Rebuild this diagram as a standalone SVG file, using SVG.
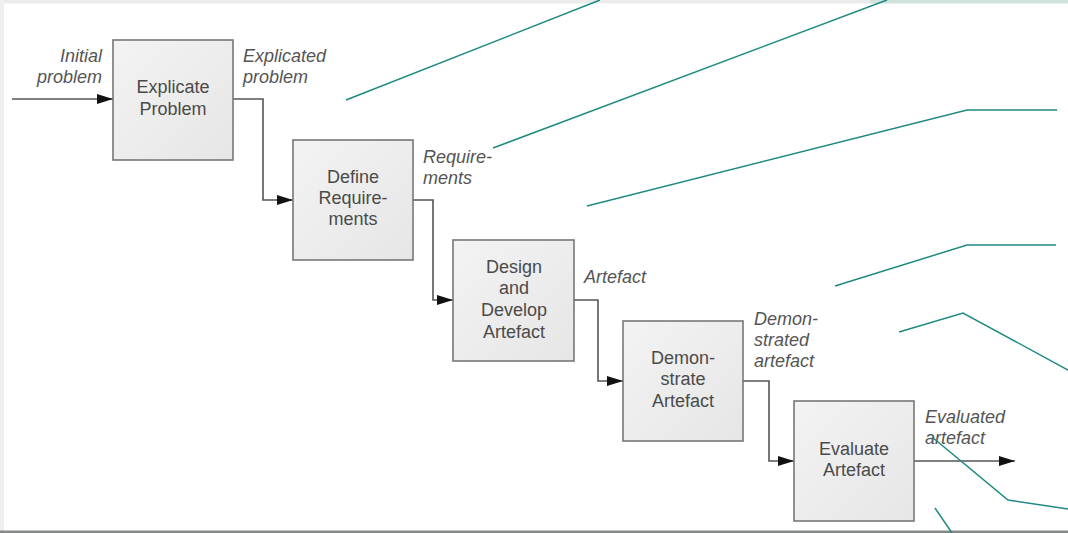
<svg xmlns="http://www.w3.org/2000/svg" width="1068" height="533" viewBox="0 0 1068 533">
<defs>
<linearGradient id="bg" x1="0" y1="0" x2="1" y2="1">
<stop offset="0" stop-color="#f3f3f3"/>
<stop offset="1" stop-color="#e6e6e6"/>
</linearGradient>
<marker id="ah" markerWidth="16" markerHeight="10" refX="16" refY="5" orient="auto" markerUnits="userSpaceOnUse">
<path d="M0,0 L16,5 L0,10 Z" fill="#111"/>
</marker>
<style>
.box{fill:url(#bg);stroke:#777;stroke-width:1.6}
.bt{font-family:"Liberation Sans",Arial,sans-serif;font-size:18px;fill:#4a4a4a;text-anchor:middle}
.lb{font-family:"Liberation Sans",Arial,sans-serif;font-size:18px;font-style:italic;fill:#555}
.con{fill:none;stroke:#555;stroke-width:1.6}
.teal{fill:none;stroke:#1e8a80;stroke-width:1.5}
</style>
</defs>
<rect x="0" y="0" width="1068" height="533" fill="#fff"/>
<rect x="0" y="0" width="870" height="3.5" fill="#ebebeb"/>
<rect x="870" y="0" width="198" height="3.5" fill="#cfe3db"/>
<rect x="0" y="0" width="4" height="533" fill="#efefef"/>
<rect x="0" y="530.5" width="1068" height="2.5" fill="#848a88"/>

<g id="connectors">
<path class="con" d="M12,99 H113" marker-end="url(#ah)"/>
<path class="con" d="M233,99 H263 V200 H293" marker-end="url(#ah)"/>
<path class="con" d="M413,200 H433 V300 H453" marker-end="url(#ah)"/>
<path class="con" d="M574,300 H598 V381 H623" marker-end="url(#ah)"/>
<path class="con" d="M743,381 H769 V461 H794" marker-end="url(#ah)"/>
<path class="con" d="M914,461 H1015" marker-end="url(#ah)"/>
</g>

<g id="labels">
<text class="lb" x="102" y="62" text-anchor="end">Initial</text>
<text class="lb" x="102" y="83" text-anchor="end">problem</text>
<text class="lb" x="243" y="62">Explicated</text>
<text class="lb" x="243" y="83">problem</text>
<text class="lb" x="423" y="163">Require-</text>
<text class="lb" x="423" y="184">ments</text>
<text class="lb" x="584" y="283">Artefact</text>
<text class="lb" x="754" y="325">Demon-</text>
<text class="lb" x="754" y="346">strated</text>
<text class="lb" x="754" y="367">artefact</text>
<text class="lb" x="925" y="423">Evaluated</text>
<text class="lb" x="925" y="444">artefact</text>
</g>

<g id="n1"><rect class="box" x="113" y="40" width="120" height="120"/>
<text class="bt" x="173" y="93">Explicate</text><text class="bt" x="173" y="115">Problem</text></g>
<g id="n2"><rect class="box" x="293" y="140" width="120" height="120"/>
<text class="bt" x="353" y="183">Define</text><text class="bt" x="353" y="204">Require-</text><text class="bt" x="353" y="225">ments</text></g>
<g id="n3"><rect class="box" x="453" y="240" width="121" height="121"/>
<text class="bt" x="514" y="273">Design</text><text class="bt" x="514" y="294">and</text><text class="bt" x="514" y="316">Develop</text><text class="bt" x="514" y="338">Artefact</text></g>
<g id="n4"><rect class="box" x="623" y="321" width="120" height="120"/>
<text class="bt" x="683" y="364">Demon-</text><text class="bt" x="683" y="385">strate</text><text class="bt" x="683" y="407">Artefact</text></g>
<g id="n5"><rect class="box" x="794" y="401" width="120" height="120"/>
<text class="bt" x="854" y="455">Evaluate</text><text class="bt" x="854" y="476">Artefact</text></g>

<g id="callouts">
<path class="teal" d="M346,100 L600,0"/>
<path class="teal" d="M493,148 L887,0"/>
<path class="teal" d="M587,206 L967,110 H1057"/>
<path class="teal" d="M835,286 L967,245 H1056"/>
<path class="teal" d="M899,332 L963,313 L1068,370"/>
<path class="teal" d="M932,437 L1008,500 L1068,509"/>
<path class="teal" d="M935,508 L952,533"/>
</g>
</svg>
